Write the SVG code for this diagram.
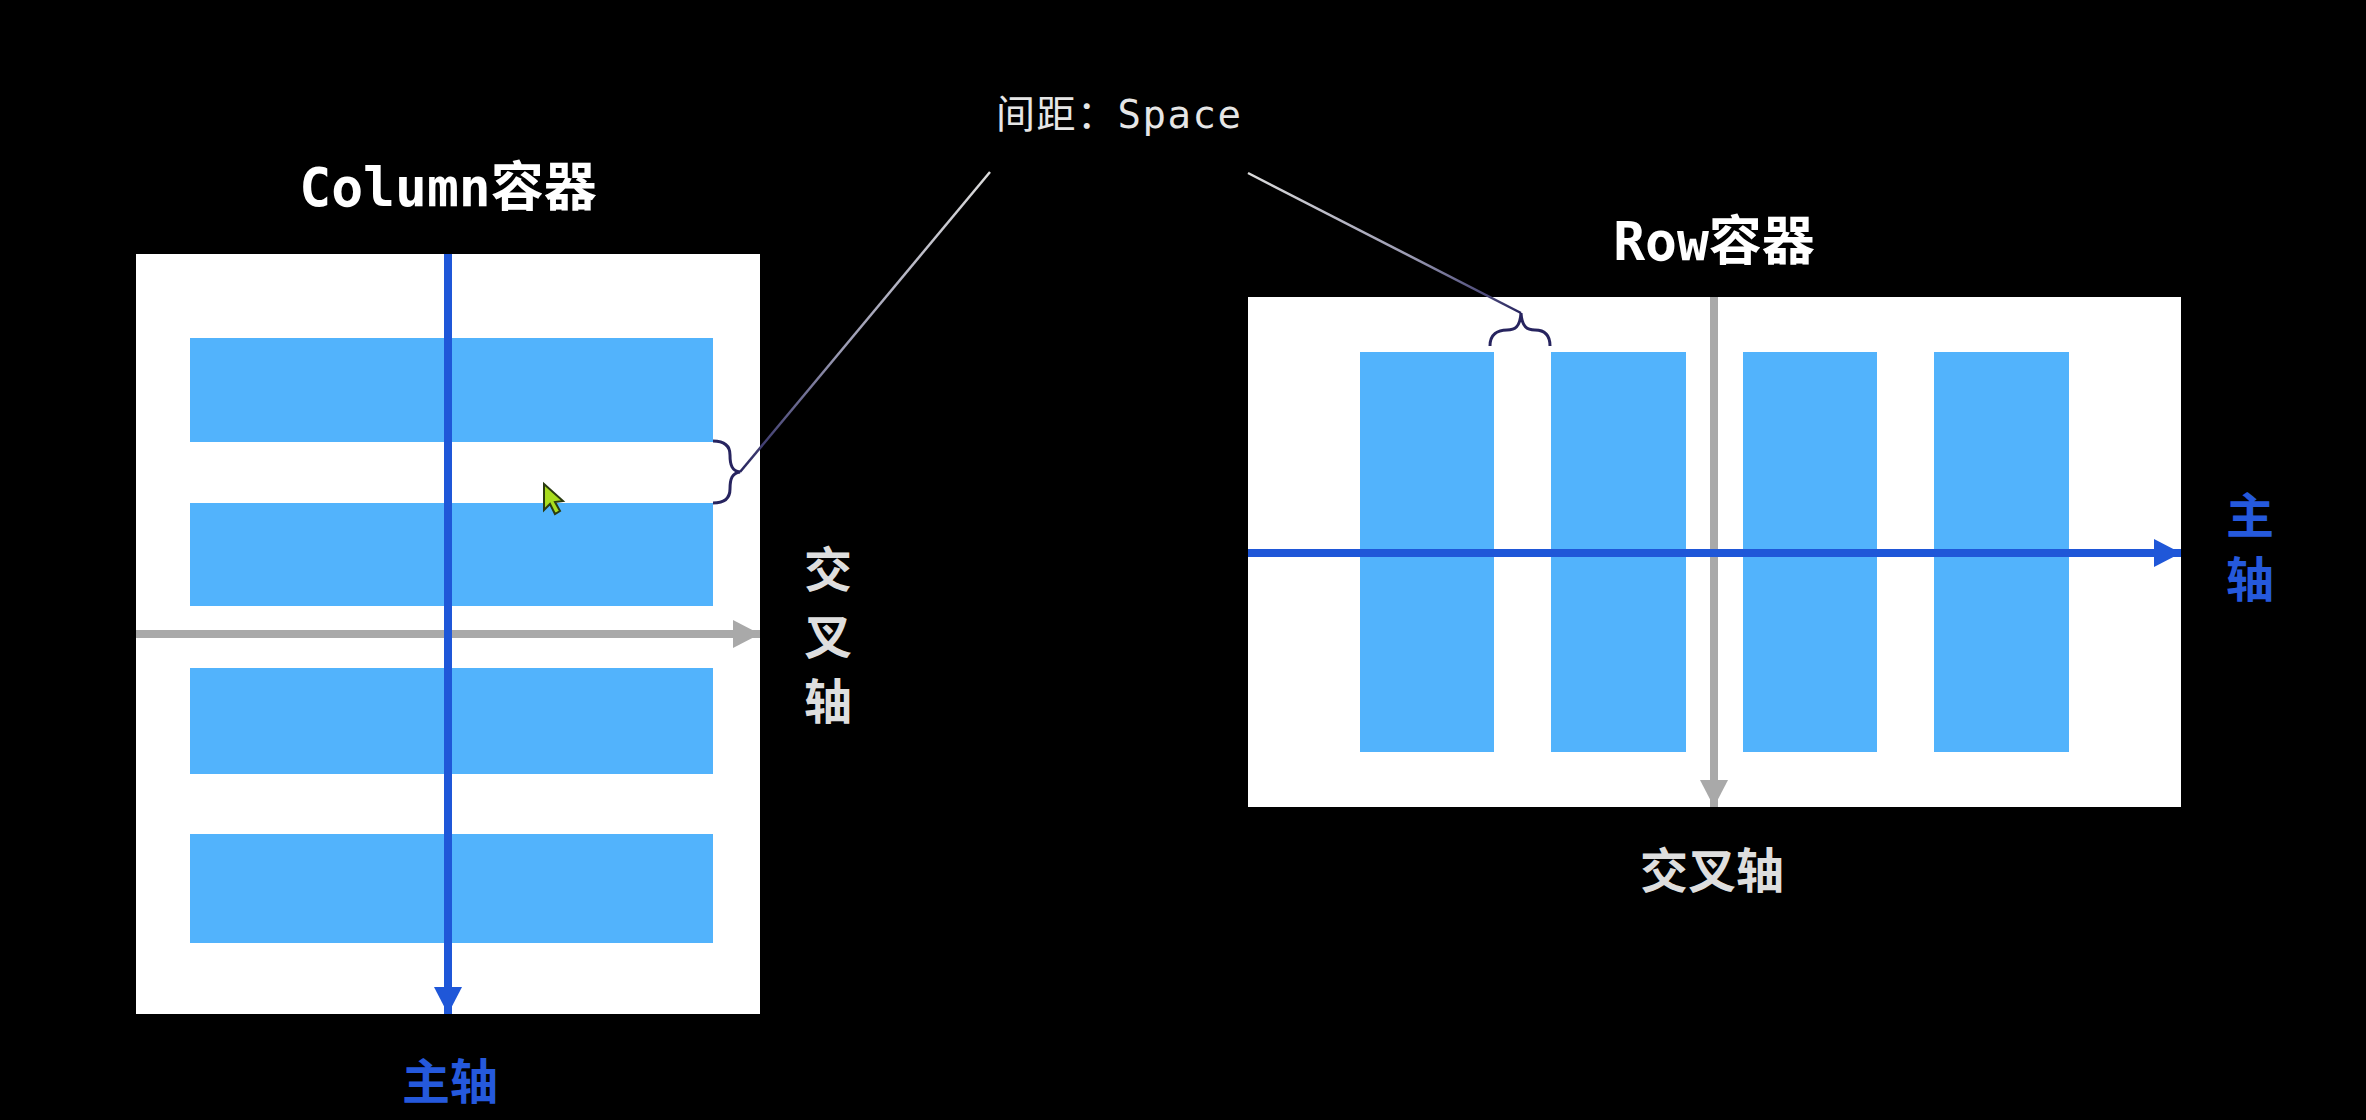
<svg xmlns="http://www.w3.org/2000/svg" width="2366" height="1120" viewBox="0 0 2366 1120">
<style>
.bg{fill:#000}
.box{fill:#fff}
.item{fill:#52b3fc}
.title{font-family:"DejaVu Sans Mono","Noto Sans CJK SC",monospace;font-weight:bold;font-size:53px;fill:#fff;text-anchor:middle}
.axis{font-family:"Noto Sans CJK SC",sans-serif;font-weight:bold;font-size:48px;text-anchor:middle}
.main{fill:#2559dc}
.cross{fill:#dedede}
.note{font-family:"DejaVu Sans Mono","Noto Sans CJK SC",monospace;font-size:39px;letter-spacing:1.5px;fill:#e6e6e6}
.mainline{stroke:#1f57d8;stroke-width:8;fill:none}
.crossline{stroke:#a9a9a9;stroke-width:8;fill:none}
.brace{stroke:#27245f;stroke-width:3;fill:none}
</style>
<defs>
<marker id="hb" markerWidth="28" markerHeight="28" refX="27" refY="14" orient="auto" markerUnits="userSpaceOnUse"><path d="M0,0 L27,14 L0,28 Z" fill="#1f57d8"/></marker>
<marker id="hg" markerWidth="28" markerHeight="28" refX="27" refY="14" orient="auto" markerUnits="userSpaceOnUse"><path d="M0,0 L27,14 L0,28 Z" fill="#a9a9a9"/></marker>
<linearGradient id="gl" gradientUnits="userSpaceOnUse" x1="990" y1="172" x2="740" y2="472"><stop offset="0" stop-color="#dcdcdc"/><stop offset="0.6" stop-color="#9a9ab2"/><stop offset="1" stop-color="#27245f"/></linearGradient>
<linearGradient id="gr" gradientUnits="userSpaceOnUse" x1="1248" y1="173" x2="1521" y2="313"><stop offset="0" stop-color="#dcdcdc"/><stop offset="0.6" stop-color="#9a9ab2"/><stop offset="1" stop-color="#27245f"/></linearGradient>
</defs>
<rect class="bg" x="0" y="0" width="2366" height="1120"/>

<g id="column-container">
<text class="title" x="448" y="206">Column容器</text>
<rect class="box" x="136" y="254" width="624" height="760"/>
<rect class="item" x="190" y="338" width="523" height="104"/>
<rect class="item" x="190" y="503" width="523" height="103"/>
<rect class="item" x="190" y="668" width="523" height="106"/>
<rect class="item" x="190" y="834" width="523" height="109"/>
</g>

<g id="row-container">
<text class="title" x="1714" y="260">Row容器</text>
<rect class="box" x="1248" y="297" width="933" height="510"/>
<rect class="item" x="1360" y="352" width="134" height="400"/>
<rect class="item" x="1551" y="352" width="135" height="400"/>
<rect class="item" x="1743" y="352" width="134" height="400"/>
<rect class="item" x="1934" y="352" width="135" height="400"/>
</g>

<g id="connectors">
<line class="crossline" x1="136" y1="634" x2="760" y2="634" marker-end="url(#hg)"/>
<line class="mainline" x1="448" y1="254" x2="448" y2="1014" marker-end="url(#hb)"/>
<line class="crossline" x1="1714" y1="297" x2="1714" y2="807" marker-end="url(#hg)"/>
<line class="mainline" x1="1248" y1="553" x2="2181" y2="553" marker-end="url(#hb)"/>
<path class="brace" d="M713,441 C726,441 730,447 730,455 C730,465 732,471 740,472 C732,473 730,479 730,489 C730,497 726,503 713,503"/>
<path class="brace" d="M1490,346 C1490,334 1498,330 1507,330 C1515,330 1520,327 1521,313 C1522,327 1527,330 1535,330 C1544,330 1550,334 1550,346"/>
<line x1="990" y1="172" x2="740" y2="472" stroke="url(#gl)" stroke-width="2.5"/>
<line x1="1248" y1="173" x2="1521" y2="313" stroke="url(#gr)" stroke-width="2.5"/>
</g>

<g id="labels">
<text class="note" x="996" y="128">间距：Space</text>
<text class="axis main" x="450" y="1099">主轴</text>
<text class="axis cross" x="828" y="587">交</text>
<text class="axis cross" x="828" y="654">叉</text>
<text class="axis cross" x="828" y="719">轴</text>
<text class="axis main" x="2250" y="533">主</text>
<text class="axis main" x="2250" y="597">轴</text>
<text class="axis cross" x="1712" y="888">交叉轴</text>
</g>

<g id="cursor">
<path d="M544,484 L544,510 L550,504 L555,514 L560,511 L555,502 L563,501 Z" fill="#a8dc1e" stroke="#2a3a10" stroke-width="2"/>
</g>
</svg>
